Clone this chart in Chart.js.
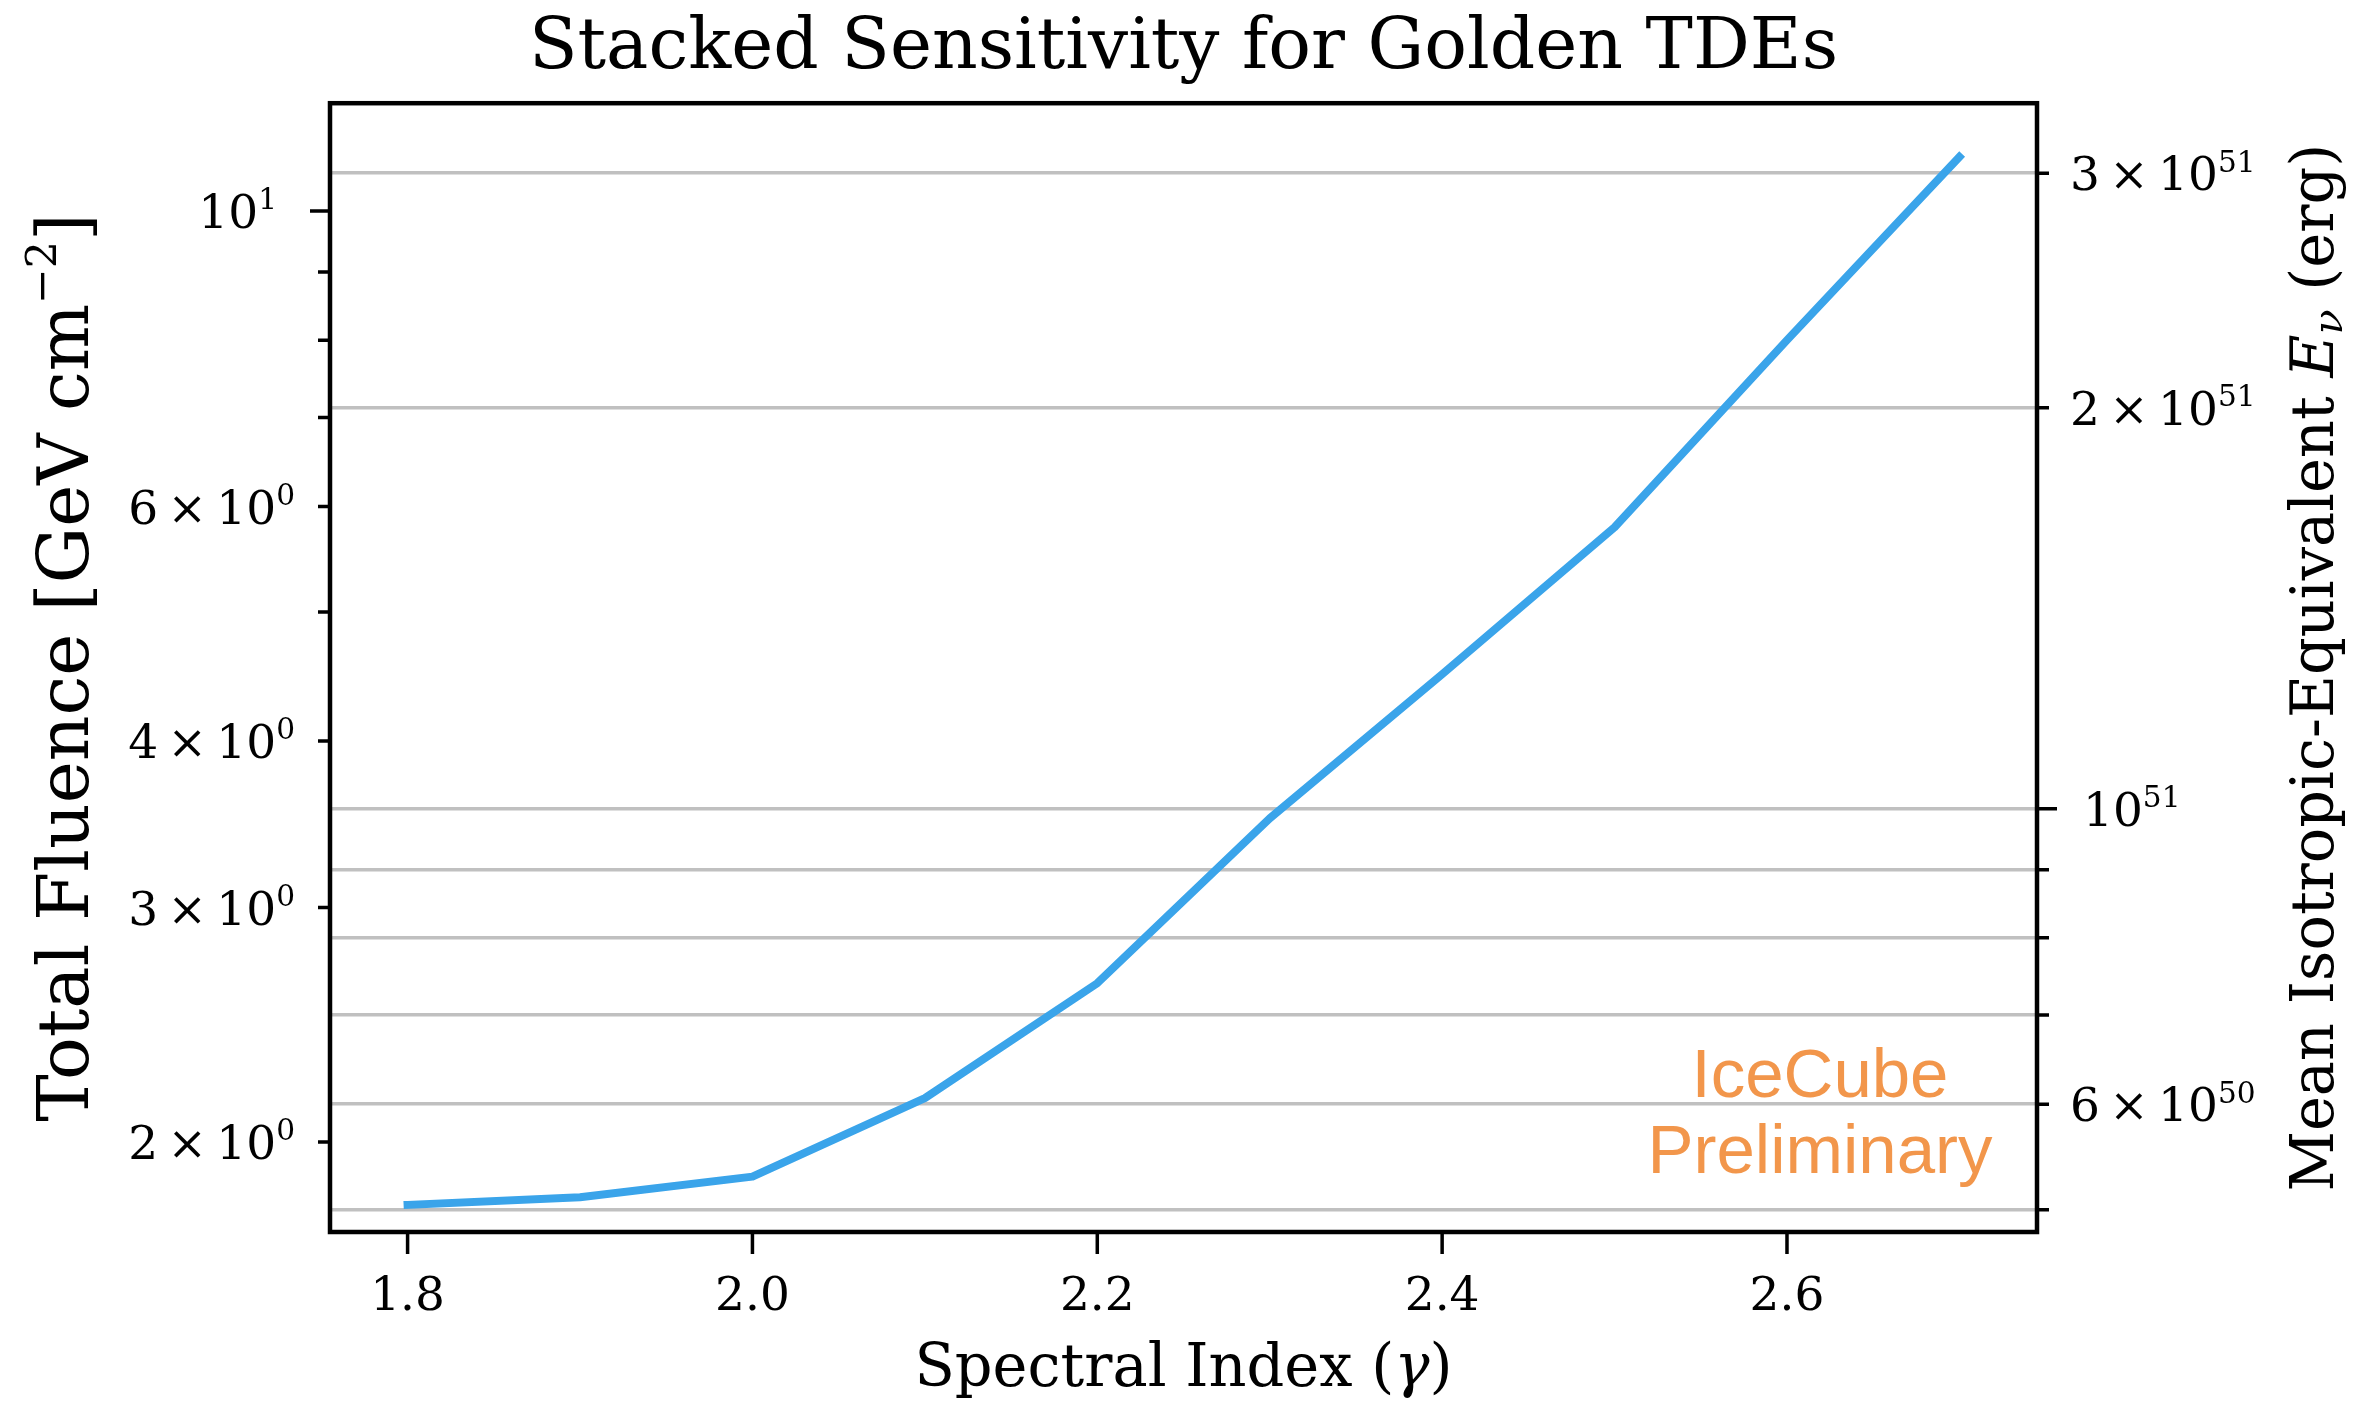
<!DOCTYPE html>
<html>
<head>
<meta charset="utf-8">
<script src="https://cdn.jsdelivr.net/npm/chart.js@4.4.0/dist/chart.umd.min.js"></script>
<style>
  html, body { margin: 0; padding: 0; background: #ffffff; }
  #wrap { width: 2366px; height: 1406px; position: relative; }
</style>
</head>
<body>
<div id="wrap"><canvas id="c"></canvas></div>
<script>
// ---------------- data ----------------
const spectralIndex = [1.8, 1.9, 2.0, 2.1, 2.2, 2.3, 2.4, 2.5, 2.6, 2.7];
const totalFluence  = [1.794, 1.818, 1.884, 2.158, 2.632, 3.50, 4.49, 5.79, 8.0, 10.98];

const xTickValues = [1.8, 2.0, 2.2, 2.4, 2.6];
const xTickLabels = ['1.8', '2.0', '2.2', '2.4', '2.6'];

const leftTickValues = [2, 3, 4, 5, 6, 7, 8, 9, 10];
const leftTickLabels = ['2 × 10^0', '3 × 10^0', '4 × 10^0', '', '6 × 10^0', '', '', '', '10^1'];
const leftMajorTicks = [10];

const rightTickValues = [5e50, 6e50, 7e50, 8e50, 9e50, 1e51, 2e51, 3e51];
const rightTickLabels = ['', '6 × 10^50', '', '', '', '10^51', '2 × 10^51', '3 × 10^51'];
const rightMajorTicks = [1e51];

const energyPerFluence = 2.81e50;       // twin-axis conversion
const xRange = [1.755, 2.745];
const fluenceRange = [1.712, 12.05];

const titleText = 'Stacked Sensitivity for Golden TDEs';
const watermark = ['IceCube', 'Preliminary'];

// ---------------- drawing helpers ----------------
const SERIF = '"DejaVu Serif"';
function fontStr(size, style) { return (style || 'normal') + ' ' + size + 'px ' + SERIF; }

function drawRich(ctx, segs, x, y, align, rot) {
  ctx.save();
  ctx.translate(x, y);
  if (rot) ctx.rotate(rot);
  ctx.textAlign = 'left';
  ctx.textBaseline = 'alphabetic';
  const widths = segs.map(s => { ctx.font = fontStr(s.size, s.style); return ctx.measureText(s.t).width; });
  let total = 0;
  segs.forEach((s, i) => { total += (s.gap || 0) + widths[i]; });
  let cx = align === 'right' ? -total : (align === 'center' ? -total / 2 : 0);
  segs.forEach((s, i) => {
    cx += (s.gap || 0);
    ctx.font = fontStr(s.size, s.style);
    ctx.fillText(s.t, cx, -(s.dy || 0));
    cx += widths[i];
  });
  ctx.restore();
}

function sciSegs(label, size) {
  const parts = label.split('^');
  const pre = parts[0], exp = parts[1];
  const segs = [];
  if (pre.indexOf('×') >= 0) {
    const m = pre.split('×').map(s => s.trim());
    segs.push({ t: m[0], size: size });
    segs.push({ t: '×', size: size, gap: 0.2 * size });
    segs.push({ t: m[1], size: size, gap: 0.2 * size });
  } else {
    segs.push({ t: pre, size: size });
  }
  if (exp !== undefined) segs.push({ t: exp, size: 0.63 * size, dy: 0.4 * size });
  return segs;
}

const TICK_FONT = 47;

const decoPlugin = {
  id: 'deco',
  afterDraw(chart) {
    const { ctx, chartArea: a, scales } = chart;
    const xs = scales.x, yl = scales.y, yr = scales.y1;
    ctx.save();
    ctx.fillStyle = '#000';
    ctx.strokeStyle = '#000';

    // tick marks
    ctx.lineWidth = 3.5;
    ctx.lineCap = 'butt';
    ctx.beginPath();
    xTickValues.forEach(v => {
      const px = xs.getPixelForValue(v);
      ctx.moveTo(px, a.bottom); ctx.lineTo(px, a.bottom + 22);
    });
    leftTickValues.forEach(v => {
      const py = yl.getPixelForValue(v);
      const L = leftMajorTicks.includes(v) ? 20 : 12;
      ctx.moveTo(a.left, py); ctx.lineTo(a.left - L, py);
    });
    rightTickValues.forEach(v => {
      const py = yr.getPixelForValue(v);
      const L = rightMajorTicks.includes(v) ? 20 : 12;
      ctx.moveTo(a.right, py); ctx.lineTo(a.right + L, py);
    });
    ctx.stroke();

    // frame
    ctx.lineWidth = 4.5;
    ctx.strokeRect(a.left, a.top, a.right - a.left, a.bottom - a.top);

    // x tick labels
    ctx.font = fontStr(TICK_FONT);
    ctx.textAlign = 'center';
    ctx.textBaseline = 'alphabetic';
    xTickValues.forEach((v, i) => {
      ctx.fillText(xTickLabels[i], xs.getPixelForValue(v), a.bottom + 78);
    });

    // left tick labels
    const digitHalf = 0.729 * TICK_FONT / 2;
    leftTickValues.forEach((v, i) => {
      const lab = leftTickLabels[i];
      if (!lab) return;
      const py = yl.getPixelForValue(v);
      const off = leftMajorTicks.includes(v) ? 53 : 35;
      drawRich(ctx, sciSegs(lab, TICK_FONT), a.left - off, py + digitHalf, 'right');
    });
    // right tick labels
    rightTickValues.forEach((v, i) => {
      const lab = rightTickLabels[i];
      if (!lab) return;
      const py = yr.getPixelForValue(v);
      const off = rightMajorTicks.includes(v) ? 46 : 33;
      drawRich(ctx, sciSegs(lab, TICK_FONT), a.right + off, py + digitHalf, 'left');
    });

    // axis titles
    const cy = (a.top + a.bottom) / 2;
    const cxp = (a.left + a.right) / 2;
    const LS = 71;
    drawRich(ctx, [
      { t: 'Total Fluence [GeV cm', size: LS },
      { t: '−2', size: 0.6 * LS, dy: 0.45 * LS },
      { t: ']', size: LS }
    ], 88, cy, 'center', -Math.PI / 2);

    const RS = 59;
    drawRich(ctx, [
      { t: 'Mean Isotropic-Equivalent ', size: RS },
      { t: 'E', size: RS, style: 'italic' },
      { t: 'ν', size: 0.7 * RS, style: 'italic', dy: -0.15 * RS },
      { t: ' (erg)', size: RS }
    ], 2333, cy, 'center', -Math.PI / 2);

    drawRich(ctx, [
      { t: 'Spectral Index (', size: RS },
      { t: 'γ', size: RS, style: 'italic' },
      { t: ')', size: RS }
    ], cxp, 1386, 'center');

    // watermark
    ctx.fillStyle = '#F2964B';
    ctx.font = 'normal 69px "Liberation Sans"';
    ctx.textAlign = 'center';
    ctx.textBaseline = 'alphabetic';
    ctx.fillText(watermark[0], 1820, 1097);
    ctx.fillText(watermark[1], 1820, 1173);

    ctx.restore();
  }
};

Chart.defaults.font.family = SERIF;
Chart.defaults.color = '#000';

new Chart(document.getElementById('c'), {
  type: 'line',
  data: {
    datasets: [{
      data: spectralIndex.map((x, i) => ({ x: x, y: totalFluence[i] })),
      borderColor: '#3AA4EA',
      borderWidth: 8,
      pointRadius: 0,
      tension: 0,
      fill: false,
      borderCapStyle: 'square',
      borderJoinStyle: 'round',
      xAxisID: 'x',
      yAxisID: 'y'
    }]
  },
  options: {
    responsive: true,
    maintainAspectRatio: false,
    devicePixelRatio: 1,
    animation: false,
    events: [],
    layout: { padding: { left: 330, right: 329, top: 0, bottom: 174 } },
    plugins: {
      legend: { display: false },
      tooltip: { enabled: false },
      title: {
        display: true,
        text: titleText,
        color: '#000',
        font: { family: SERIF, size: 71, weight: 'normal', lineHeight: 1.2 },
        padding: { top: 7, bottom: 11 }
      }
    },
    scales: {
      x: {
        type: 'linear', min: xRange[0], max: xRange[1], bounds: 'data',
        grid: { display: false, drawTicks: false },
        border: { display: false },
        ticks: { display: false },
        afterBuildTicks: s => { s.ticks = xTickValues.map(v => ({ value: v })); }
      },
      y: {
        type: 'logarithmic', position: 'left',
        min: fluenceRange[0], max: fluenceRange[1], bounds: 'data',
        grid: { display: false, drawTicks: false },
        border: { display: false },
        ticks: { display: false },
        afterBuildTicks: s => { s.ticks = leftTickValues.map(v => ({ value: v })); }
      },
      y1: {
        type: 'logarithmic', position: 'right',
        min: fluenceRange[0] * energyPerFluence, max: fluenceRange[1] * energyPerFluence, bounds: 'data',
        grid: { display: true, drawOnChartArea: true, drawTicks: false, color: '#c0c0c0', lineWidth: 3.5 },
        border: { display: false },
        ticks: { display: false },
        afterBuildTicks: s => { s.ticks = rightTickValues.map(v => ({ value: v })); }
      }
    }
  },
  plugins: [decoPlugin]
});
</script>
</body>
</html>
